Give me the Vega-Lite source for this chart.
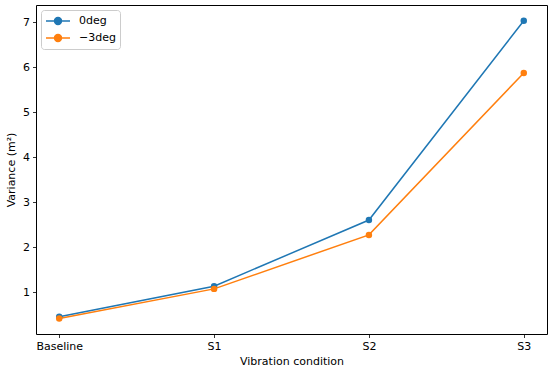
{
  "$schema": "https://vega.github.io/schema/vega-lite/v6.json",
  "width": 511,
  "height": 329,
  "autosize": {"type": "none"},
  "padding": {"left": 36, "top": 5, "right": 3, "bottom": 37},
  "background": "white",
  "config": {
    "font": "DejaVu Sans",
    "view": {"stroke": "black", "strokeWidth": 1},
    "axis": {
      "grid": false,
      "domain": false,
      "tickColor": "black",
      "tickSize": 3.5,
      "tickWidth": 0.8,
      "labelFont": "DejaVu Sans",
      "labelFontSize": 11,
      "labelColor": "black",
      "titleFont": "DejaVu Sans",
      "titleFontSize": 11,
      "titleFontWeight": "normal",
      "titleColor": "black",
      "labelPadding": 3
    }
  },
  "data": {
    "values": [
      {"condition": "Baseline", "series": "0deg", "variance": 0.45},
      {"condition": "S1", "series": "0deg", "variance": 1.13},
      {"condition": "S2", "series": "0deg", "variance": 2.6},
      {"condition": "S3", "series": "0deg", "variance": 7.03},
      {"condition": "Baseline", "series": "−3deg", "variance": 0.41},
      {"condition": "S1", "series": "−3deg", "variance": 1.07},
      {"condition": "S2", "series": "−3deg", "variance": 2.27},
      {"condition": "S3", "series": "−3deg", "variance": 5.87}
    ]
  },
  "encoding": {
    "x": {
      "field": "condition",
      "type": "ordinal",
      "sort": ["Baseline", "S1", "S2", "S3"],
      "scale": {"type": "point", "padding": 0.15},
      "axis": {"title": "Vibration condition", "labelAngle": 0, "titlePadding": 4}
    },
    "y": {
      "field": "variance",
      "type": "quantitative",
      "scale": {"domain": [0.067, 7.38], "nice": false, "zero": false},
      "axis": {"title": "Variance (m²)", "values": [1, 2, 3, 4, 5, 6, 7], "titlePadding": 6}
    },
    "color": {
      "field": "series",
      "type": "nominal",
      "scale": {"domain": ["0deg", "−3deg"], "range": ["#1f77b4", "#ff7f0e"]},
      "legend": {
        "title": null,
        "orient": "none",
        "legendX": 5,
        "legendY": 5,
        "padding": 4,
        "strokeColor": "#cccccc",
        "fillColor": "white",
        "cornerRadius": 3,
        "labelFont": "DejaVu Sans",
        "labelFontSize": 11,
        "labelColor": "black",
        "symbolType": "M-2,0L2,0M-0.58,0A0.58,0.58,0,1,0,0.58,0A0.58,0.58,0,1,0,-0.58,0Z",
        "symbolSize": 144,
        "symbolStrokeWidth": 1.5,
        "symbolOffset": 6,
        "rowPadding": 3,
        "labelOffset": 14,
        "encode": {
          "symbols": {
            "update": {
              "fill": {"scale": "color", "field": "value"},
              "stroke": {"scale": "color", "field": "value"},
              "fillOpacity": {"value": 1}
            }
          }
        }
      }
    }
  },
  "layer": [
    {"mark": {"type": "line", "strokeWidth": 1.5}},
    {"mark": {"type": "point", "filled": true, "opacity": 1, "size": 42}}
  ]
}
